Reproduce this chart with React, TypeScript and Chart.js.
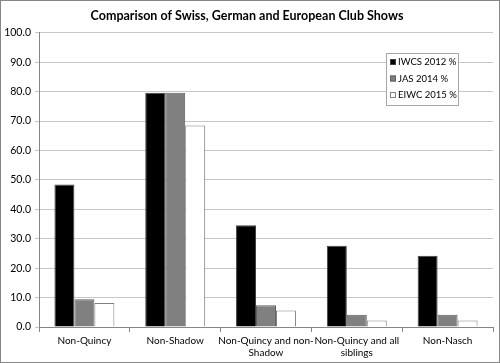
import React, { useEffect, useRef } from "react";
import { Chart, registerables } from "chart.js";

Chart.register(...registerables);

const categories: (string | string[])[] = [
  "Non-Quincy",
  "Non-Shadow",
  ["Non-Quincy and non-", "Shadow"],
  ["Non-Quincy and all", "siblings"],
  "Non-Nasch",
];
const seriesNames = ["IWCS 2012 %", "JAS 2014 %", "EIWC 2015 %"];
const iwcs2012 = [48.4, 79.6, 34.6, 27.6, 24.2];
const jas2014 = [9.4, 79.6, 7.4, 4.2, 4.2];
const eiwc2015 = [8.2, 68.5, 5.6, 2.2, 2.2];
const yTicks = [0, 10, 20, 30, 40, 50, 60, 70, 80, 90, 100];
const titleText = "Comparison of Swiss, German and European Club Shows";

const FONT = "Lato, 'Open Sans', sans-serif";

const fills = ["#000000", "#808080", "#ffffff"];
const borders = ["#404040", "#606060", "#808080"];

const legendPlugin = {
  id: "boxLegend",
  afterDraw(chart: any) {
    const ctx = chart.ctx;
    const x = 385, y = 52, w = 72, h = 52;
    ctx.save();
    ctx.fillStyle = "#ffffff";
    ctx.fillRect(x, y, w, h);
    ctx.strokeStyle = "#a6a6a6";
    ctx.lineWidth = 1;
    ctx.strokeRect(x + 0.5, y + 0.5, w, h);
    ctx.font = `9.5px ${FONT}`;
    ctx.textBaseline = "middle";
    const ys = [61, 77.5, 94];
    seriesNames.forEach((name, i) => {
      ctx.fillStyle = fills[i];
      ctx.fillRect(x + 4, ys[i] - 3, 6, 6);
      ctx.strokeStyle = borders[i];
      ctx.strokeRect(x + 4.5, ys[i] - 2.5, 5, 5);
      ctx.fillStyle = "#000000";
      ctx.fillText(name, x + 12, ys[i]);
    });
    ctx.restore();
  },
};

export default function App() {
  const ref = useRef<HTMLCanvasElement>(null);
  useEffect(() => {
    document.body.style.margin = "0";
    if (!ref.current) return;
    const chart = new Chart(ref.current, {
      type: "bar",
      data: {
        labels: categories,
        datasets: [iwcs2012, jas2014, eiwc2015].map((d, i) => ({
          label: seriesNames[i],
          data: d,
          backgroundColor: fills[i],
          borderColor: borders[i],
          borderWidth: 1,
          barPercentage: 1,
          categoryPercentage: 0.66,
        })),
      },
      options: {
        animation: false,
        responsive: false,
        layout: { padding: { left: 0, right: 6, top: 0, bottom: 0 } },
        plugins: {
          legend: { display: false },
          tooltip: { enabled: false },
          title: {
            display: true,
            text: titleText,
            color: "#000000",
            font: { family: FONT, size: 12.5, weight: "bold" },
            padding: { top: 7, bottom: 9.8 },
          },
        },
        scales: {
          x: {
            grid: {
              offset: true,
              drawOnChartArea: false,
              drawTicks: true,
              tickLength: 5,
              color: "#868686",
            },
            border: { color: "#868686" },
            ticks: {
              color: "#000000",
              font: { family: FONT, size: 10 },
              maxRotation: 0,
              autoSkip: false,
              padding: 3,
            },
            afterFit(scale: any) {
              scale.height = 35;
            },
          },
          y: {
            min: 0,
            max: 100,
            afterBuildTicks(scale: any) {
              scale.ticks = yTicks.map((v) => ({ value: v }));
            },
            grid: { color: "#c8c8c8", drawTicks: true, tickLength: 4 },
            border: { color: "#868686" },
            ticks: {
              color: "#000000",
              font: { family: FONT, size: 10.5 },
              padding: 4,
              callback: (v: any) => Number(v).toFixed(1),
            },
            afterFit(scale: any) {
              scale.width = 38;
            },
          },
        },
      },
      plugins: [legendPlugin],
    });
    return () => chart.destroy();
  }, []);
  return (
    <div
      style={{
        width: 500,
        height: 363,
        border: "1px solid #868686",
        boxSizing: "border-box",
        background: "#fff",
      }}
    >
      <canvas ref={ref} width={498} height={361} style={{ display: "block" }} />
    </div>
  );
}
